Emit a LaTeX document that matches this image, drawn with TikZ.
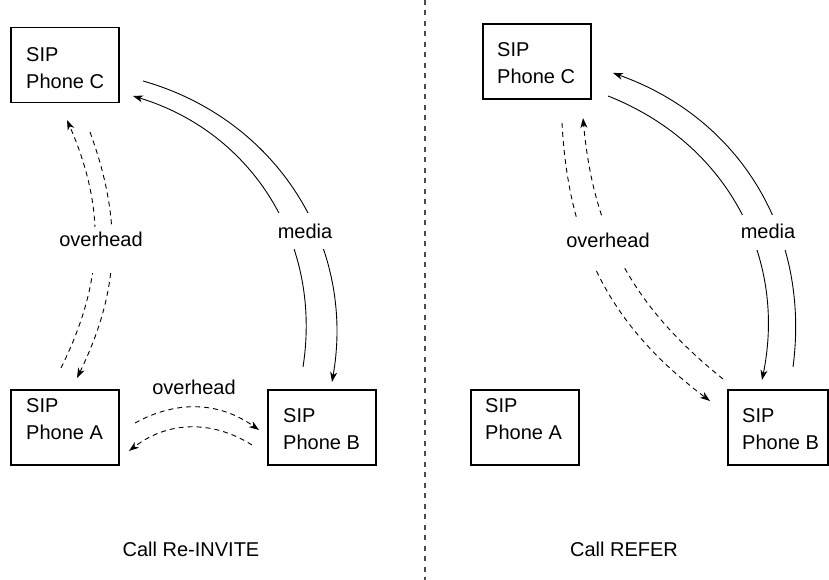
\documentclass[tikz,border=0pt]{standalone}
\usepackage{fontspec}
\setmainfont{Liberation Sans}
\usetikzlibrary{arrows.meta}
\begin{document}
\begin{tikzpicture}[x=1pt,y=1pt,
  phone/.style={draw, line width=1.2pt, minimum width=108pt, minimum height=75pt, inner sep=0pt},
  plabel/.style={anchor=base west, align=left, inner sep=0pt, font=\fontsize{20}{27}\selectfont},
  flow/.style={line width=0.9pt, -{Stealth[length=10pt,width=7pt,inset=3pt]}},
  dashflow/.style={flow, dash pattern=on 5pt off 4pt},
  tag/.style={font=\fontsize{20}{23}\selectfont, inner sep=0pt, anchor=base},
  gap/.style={fill=white, inner xsep=2pt, inner ysep=0pt},
  divider/.style={line width=1.2pt, draw=black!70, dash pattern=on 5pt off 5.5pt}
]
\useasboundingbox (0,0) rectangle (829,580);

% ---------------- left panel: Call Re-INVITE ----------------
\node[phone] (lC) at (65,515) {};
\node[phone] (lA) at (65,152.5) {};
\node[phone] (lB) at (322,152.5) {};
% label anchors sit on the baseline of the second line
\node[plabel] (lCt) at (26,491) {SIP\\Phone C};
\node[plabel] (lAt) at (26,140) {SIP\\Phone A};
\node[plabel] (lBt) at (283,130) {SIP\\Phone B};

% media path C <-> B
\coordinate (lm1s) at (143,499); \coordinate (lm1e) at (332,198);
\coordinate (lm2s) at (303,213); \coordinate (lm2e) at (133,484);
\draw[flow] (lm1s) to[bend left=42] (lm1e);
\draw[flow] (lm2s) to[bend right=41] (lm2e);
\node[tag, gap, text height=26pt, text depth=10pt] (lmedia) at (305,341) {media};

% signalling A <-> C
\coordinate (lo1s) at (61,212); \coordinate (lo1e) at (67,460);
\coordinate (lo2s) at (90,448); \coordinate (lo2e) at (77,202);
\draw[dashflow] (lo1s) to[bend right=25] (lo1e);
\draw[dashflow] (lo2s) to[bend left=23] (lo2e);
\node[tag, gap, text height=20pt, text depth=26pt] (lover) at (101,333) {overhead};

% signalling A <-> B
\coordinate (lh1s) at (135,157); \coordinate (lh1e) at (259,150);
\coordinate (lh2s) at (252,135); \coordinate (lh2e) at (129,129);
\draw[dashflow] (lh1s) to[bend left=32] (lh1e);
\draw[dashflow] (lh2s) to[bend right=35] (lh2e);
\node[tag] (lhover) at (194,185) {overhead};

\node[tag] (capL) at (191,23) {Call Re-INVITE};

% ---------------- divider ----------------
\coordinate (dtop) at (425,580); \coordinate (dbot) at (425,0);
\draw[divider] (dtop) -- (dbot);

% ---------------- right panel: Call REFER ----------------
\node[phone] (rC) at (537,518.5) {};
\node[phone] (rA) at (525,152.5) {};
\node[phone, minimum width=100pt] (rB) at (778,152.5) {};
\node[plabel] (rCt) at (497,496) {SIP\\Phone C};
\node[plabel] (rAt) at (485,140) {SIP\\Phone A};
\node[plabel] (rBt) at (742,130) {SIP\\Phone B};

% media path B <-> C
\coordinate (rm1s) at (793,213); \coordinate (rm1e) at (613,507);
\coordinate (rm2s) at (608,484); \coordinate (rm2e) at (762,200);
\draw[flow] (rm1s) to[bend right=39] (rm1e);
\draw[flow] (rm2s) to[bend left=40] (rm2e);
\node[tag, gap, text height=24pt, text depth=11pt] (rmedia) at (768,341) {media};

% signalling B <-> C
\coordinate (ro1s) at (723,201); \coordinate (ro1e) at (583,462);
\coordinate (ro2s) at (562,457); \coordinate (ro2e) at (710,179);
\draw[dashflow] (ro1s) to[bend left=23] (ro1e);
\draw[dashflow] (ro2s) to[bend right=25] (ro2e);
\node[tag, gap, text height=30pt, text depth=20pt] (rover) at (608,332) {overhead};

\node[tag] (capR) at (624,23) {Call REFER};
\end{tikzpicture}
\end{document}
